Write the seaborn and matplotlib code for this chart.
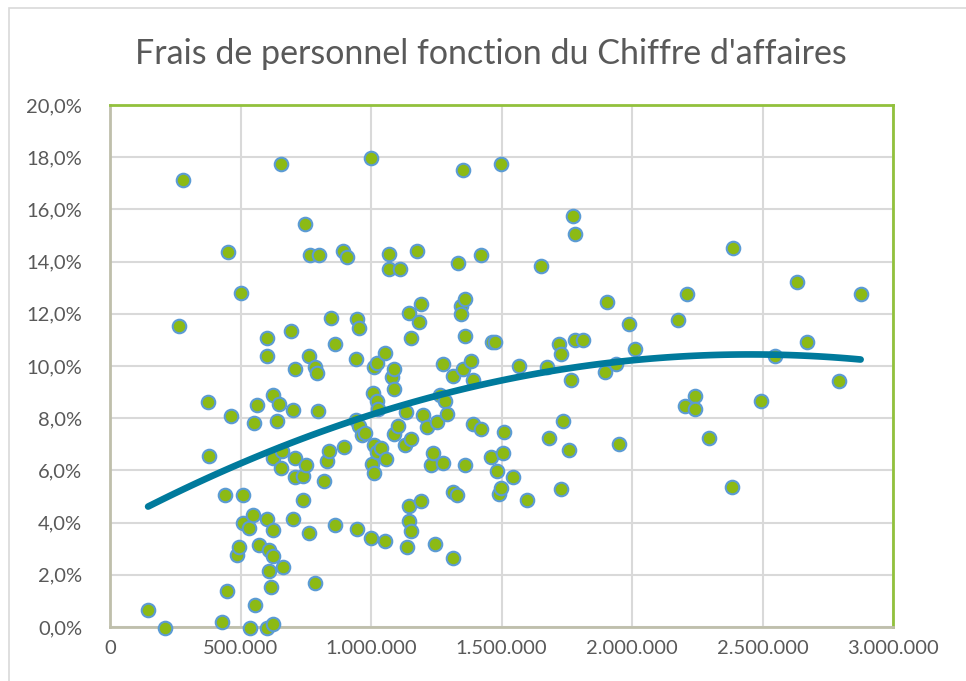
import numpy as np
import pandas as pd
import seaborn as sns
from matplotlib import pyplot as plt
from matplotlib.patches import Rectangle
from matplotlib.ticker import FuncFormatter, MultipleLocator

# chiffre d'affaires (euros) et frais de personnel (% du CA)
ca = [146000, 210000, 264000, 279000, 377000, 380000, 431000, 439000, 448000, 454000,
      463000, 486000, 494000, 503000, 508000, 508000, 531000, 537000, 546000, 553000,
      556000, 562000, 571000, 600000, 600000, 600000, 600000, 609000, 609000, 615000,
      623000, 623000, 625000, 625000, 625000, 639000, 647000, 654000, 655000, 659000,
      662000, 692000, 700000, 701000, 708000, 708000, 709000, 739000, 740000, 746000,
      752000, 761000, 761000, 768000, 786000, 786000, 793000, 798000, 801000, 821000,
      832000, 838000, 846000, 861000, 862000, 892000, 898000, 907000, 944000, 944000,
      946000, 947000, 953000, 953000, 967000, 978000, 999000, 1000000, 1004000, 1006000,
      1013000, 1013000, 1013000, 1022000, 1022000, 1023000, 1028000, 1039000, 1053000, 1053000,
      1058000, 1068000, 1068000, 1082000, 1088000, 1090000, 1090000, 1104000, 1111000, 1129000,
      1136000, 1137000, 1145000, 1147000, 1147000, 1152000, 1154000, 1154000, 1176000, 1185000,
      1190000, 1191000, 1199000, 1214000, 1228000, 1237000, 1245000, 1253000, 1266000, 1274000,
      1276000, 1282000, 1291000, 1314000, 1314000, 1315000, 1331000, 1335000, 1344000, 1344000,
      1352000, 1354000, 1360000, 1360000, 1360000, 1382000, 1391000, 1392000, 1420000, 1422000,
      1459000, 1465000, 1475000, 1482000, 1489000, 1497000, 1497000, 1506000, 1510000, 1543000,
      1567000, 1597000, 1651000, 1675000, 1681000, 1721000, 1727000, 1727000, 1735000, 1759000,
      1766000, 1773000, 1780000, 1781000, 1812000, 1896000, 1903000, 1940000, 1949000, 1987000,
      2010000, 2177000, 2202000, 2210000, 2240000, 2240000, 2294000, 2384000, 2386000, 2493000,
      2549000, 2631000, 2669000, 2792000, 2876000]
taux = [0.67, -0.05, 11.55, 17.14, 8.63, 6.56, 0.21, 5.05, 1.38, 14.38,
        8.09, 2.74, 3.05, 12.78, 5.05, 3.97, 3.81, -0.05, 4.28, 7.80,
        0.84, 8.50, 3.13, 11.09, 10.40, 4.13, -0.05, 2.96, 2.13, 1.53,
        8.87, 6.49, 3.73, 2.73, 0.13, 7.88, 8.55, 17.75, 6.11, 6.75,
        2.30, 11.33, 8.32, 4.12, 6.48, 5.73, 9.87, 4.88, 5.80, 15.45,
        6.20, 10.40, 3.59, 14.24, 9.97, 1.67, 9.72, 8.26, 14.24, 5.59,
        6.35, 6.75, 11.85, 3.90, 10.86, 14.39, 6.90, 14.16, 10.26, 7.93,
        11.79, 3.74, 11.47, 7.72, 7.35, 7.43, 17.98, 3.42, 6.26, 8.95,
        9.97, 6.97, 5.91, 10.10, 8.64, 6.71, 8.36, 6.84, 10.49, 3.28,
        6.43, 14.31, 13.70, 9.59, 7.40, 9.87, 9.11, 7.71, 13.70, 6.96,
        8.25, 3.05, 12.02, 4.65, 4.05, 11.09, 7.20, 3.67, 14.39, 11.70,
        4.81, 12.39, 8.12, 7.66, 6.19, 6.65, 3.19, 7.86, 8.88, 10.09,
        6.27, 8.64, 8.18, 9.60, 2.66, 5.19, 5.04, 13.93, 12.31, 12.01,
        17.52, 9.87, 12.55, 11.16, 6.19, 10.18, 7.79, 9.46, 14.24, 7.57,
        6.50, 10.93, 10.93, 5.96, 5.11, 17.75, 5.34, 6.65, 7.47, 5.73,
        10.01, 4.88, 13.85, 9.96, 7.26, 10.86, 10.47, 5.27, 7.88, 6.80,
        9.46, 15.76, 11.01, 15.07, 11.01, 9.78, 12.47, 10.06, 7.03, 11.62,
        10.64, 11.78, 8.48, 12.76, 8.86, 8.34, 7.26, 5.36, 14.54, 8.64,
        10.40, 13.22, 10.93, 9.41, 12.76]

df = pd.DataFrame({"ca": ca, "taux": taux})

sns.set_style("white")
plt.rcParams['font.family'] = ['Lato', 'DejaVu Sans']

W, H = 966, 681
fig = plt.figure(figsize=(W / 100, H / 100), dpi=100)
ax = fig.add_axes([110 / W, 1 - 627 / H, (893 - 110) / W, (627 - 105) / H])

# cadre gris du graphique
fig.patches.append(Rectangle((9 / W, -0.05), 1.1, 1 - 8 / H + 0.05, transform=fig.transFigure,
                             fill=False, edgecolor='#d9d9d9', linewidth=1.2))

# nuage de points + tendance polynomiale (ordre 2)
sns.regplot(data=df, x="ca", y="taux", order=2, ci=None, ax=ax,
            scatter_kws=dict(s=95, color='#8cba14', edgecolors='#5b9bd5', linewidths=1.5,
                             alpha=1, clip_on=False, zorder=3),
            line_kws=dict(color='#007a9c', linewidth=4.8, solid_capstyle='round', zorder=4))

ax.set_xlim(0, 3000000)
ax.set_ylim(0, 20)
ax.xaxis.set_major_locator(MultipleLocator(500000))
ax.yaxis.set_major_locator(MultipleLocator(2))
ax.xaxis.set_major_formatter(FuncFormatter(lambda v, p: f"{int(round(v)):,}".replace(',', '.')))
ax.yaxis.set_major_formatter(FuncFormatter(lambda v, p: f"{v:.1f}%".replace('.', ',')))
ax.grid(True, color='#d9d9d9', linewidth=1.5)
ax.set_axisbelow(True)
ax.tick_params(length=0, labelsize=14.5, colors='#595959')
ax.tick_params(axis='y', pad=20)
ax.tick_params(axis='x', pad=9)
ax.set_xlabel("")
ax.set_ylabel("")

for side in ['top', 'right']:
    ax.spines[side].set_color('#92c13c')
    ax.spines[side].set_linewidth(2)
for side in ['left', 'bottom']:
    ax.spines[side].set_color('#bfbfab')
    ax.spines[side].set_linewidth(2)

fig.text(491 / W, 1 - 54 / H, "Frais de personnel fonction du Chiffre d'affaires",
         ha='center', va='center', fontsize=24.5, color='#595959')

fig.savefig("out.png", dpi=100)
